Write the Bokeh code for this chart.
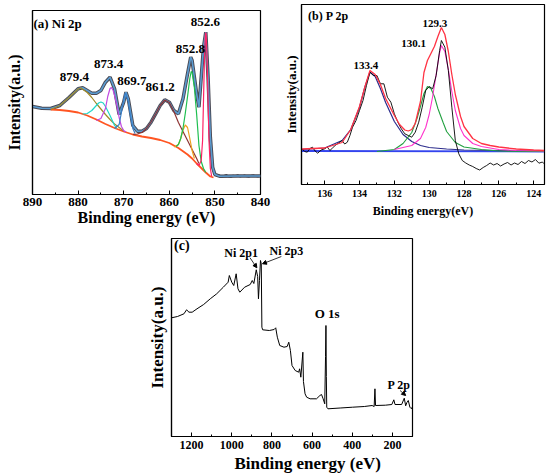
from bokeh.plotting import figure
from bokeh.layouts import row, column, Spacer
from bokeh.models import Range1d, FixedTicker, SingleIntervalTicker, Label, Arrow, NormalHead
from bokeh.embed import file_html
from bokeh.resources import INLINE

FONT = "Liberation Serif"

# ---------------- Panel (a) Ni 2p ----------------
a_env_e = [890, 888, 886, 884, 882, 880, 879, 878, 877, 876, 875, 874, 873, 872, 871, 870, 869.5, 869,
           868, 867, 866, 865, 864, 863, 862, 861, 860, 859, 858, 857, 856, 855.3, 855, 854, 853.5, 853,
           852.5, 852, 851.5, 851, 850.5, 850, 849, 845, 840]
a_env_v = [88, 86.3, 86, 89, 97, 105.7, 106.7, 104, 101.3, 101.3, 104, 112.3, 117.3, 105.7, 80, 92.3, 102.3, 95.7,
           69, 63.3, 63.3, 66, 72.3, 80.7, 89, 94.7, 92.3, 84, 80.7, 95.7, 120.7, 137.3, 134, 100.7, 87.3, 117.3,
           147.3, 162.3, 117.3, 57.3, 27.3, 20, 18.3, 18.5, 18.5]
a_tail_e = [850, 849.5, 849, 848.5, 848, 847.5, 847, 846.5, 846, 845.5, 845, 844.5, 844, 843.5, 843, 842.5,
            842, 841.5, 841, 840.5, 840]
a_tail_v = [20, 18.5, 19.5, 17.5, 18.8, 19.8, 18, 17.2, 19, 18.4, 19.6, 17.8, 18.6, 19.2, 18, 17.6, 18.9, 19.4,
            18.2, 17.9, 18.7]
a_bg_e = [886, 884, 882, 880, 878, 876, 874, 872, 870, 868, 866, 864, 862, 860, 858, 856, 855, 854, 853, 852, 851, 850.3]
a_bg_v = [85, 84.5, 83.5, 82, 79, 75, 70.5, 66.5, 63, 60, 58, 56.5, 54.5, 51.5, 46.5, 40, 36, 31, 26.5, 22, 18, 17]
a_olive_e = [886, 884, 882, 880, 879.4, 878, 877, 876, 875, 874, 873, 872, 871, 870]
a_olive_v = [85, 89, 97, 105.5, 106.5, 102, 97, 91, 85.5, 80, 75, 70.5, 67, 63.5]
a_cyan_e = [879, 878, 877, 876, 875.5, 875, 874.5, 874, 873, 872, 871.5]
a_cyan_v = [80.5, 81, 84, 89, 91.5, 92.5, 91.5, 88, 79, 69, 66]
a_mag_e = [876, 875, 874, 873.5, 873, 872.7, 872.3, 872, 871.5, 871, 870.5, 870, 869.5]
a_mag_v = [74, 76, 86, 98, 106, 107, 104, 99, 89, 77, 68, 64, 62.5]
a_blue_e = [872, 871, 870.5, 870, 869.7, 869.5, 869, 868.5, 868, 867.5]
a_blue_v = [66, 70, 82, 95, 101, 100.5, 93, 78, 66, 61]
a_brown_e = [868, 867, 866, 865, 864, 863, 862, 861, 860, 859, 858, 857, 856, 855, 854, 853.5]
a_brown_v = [60, 60.5, 62, 66, 72.5, 80.5, 89, 94.5, 92, 83, 72, 63, 54, 45, 36, 31]
a_orange_e = [859, 858, 857.5, 857, 856.5, 856, 855.5, 855, 854.5]
a_orange_v = [47.5, 50, 56, 64.5, 69.5, 67, 56, 44, 36]
a_green_e = [858.5, 858, 857.5, 857, 856.5, 856, 855.5, 855.2, 855, 854.5, 854, 853.5, 853, 852.5, 852]
a_green_v = [48, 50, 56, 66, 81, 98, 116, 123, 122, 107, 80, 49, 33, 26, 22]
a_red_e = [854, 853.5, 853, 852.7, 852.5, 852.3, 852.1, 852, 851.9, 851.7, 851.5, 851.3, 851, 850.7]
a_red_v = [31, 29, 34, 54, 94, 134, 159, 162, 159, 134, 94, 54, 26, 18]
a_peak_labels = ["852.6", "852.8", "879.4", "873.4", "869.7", "861.2"]

# ---------------- Panel (b) P 2p ----------------
b_raw_e = [137.3, 137.15, 137, 136.85, 136.7, 136.55, 136.4, 136.2, 136, 135.85, 135.7, 135.55, 135.4, 135.2,
           135, 134.85, 134.7, 134.55, 134.4, 134.2, 134, 133.8, 133.6, 133.4,
           133.2, 133, 132.8, 132.6, 132.4, 132.2, 132, 131.8, 131.6, 131.4, 131.2, 131, 130.8, 130.6, 130.4,
           130.2, 130, 129.8, 129.6, 129.4, 129.3, 129.1, 128.9, 128.7, 128.5, 128.3, 128.1, 127.9, 127.7, 127.5,
           127.3, 127.1, 126.9, 126.7, 126.5, 126.3, 126.1, 125.9, 125.7, 125.5, 125.3, 125.1, 124.9, 124.7,
           124.5, 124.3, 124.1, 123.9, 123.7, 123.5, 123.4]
b_raw_v = [35.7, 33, 32.3, 36, 37.3, 33.5, 31.3, 34.5, 35.7, 37.5, 34, 36.5, 39, 41.5,
           44, 40.5, 42.3, 49, 57.3, 64, 74, 84, 99, 112.3,
           109, 109, 100.7, 100.7, 87.3, 82.3, 70.7, 62.3, 55.7, 50.7, 49, 47.3, 52.3, 62.3, 77.3,
           94, 98, 95.7, 109, 134, 144, 137.3, 114, 77.3, 44, 30.7, 24, 21.5, 19.5, 18,
           16, 14.5, 17, 19, 21.5, 19.5, 21, 18.5, 20.5, 22, 19.5, 21.5, 20, 23, 21, 24, 22.5, 25, 21.3, 22.5, 20.7]
b_env_e = [137.3, 136, 135, 134.5, 134, 133.7, 133.4, 133.1, 132.8, 132.5, 132, 131.7, 131.4, 131.2, 131,
           130.8, 130.5, 130.3, 130.1, 129.9, 129.7, 129.5, 129.3, 129.1, 128.9, 128.7, 128.5, 128.2, 128,
           127.5, 127, 126.5, 126, 125, 124, 123.4]
b_env_v = [35.5, 36.5, 42, 55, 78, 97, 114, 110, 100, 86, 69, 60, 54.5, 53.5, 55,
           61, 83, 112, 124, 131, 138, 148, 157, 150, 133, 110, 90, 68, 58,
           46, 41, 39, 37.5, 35.5, 34.5, 34]
b_navy_e = [137.3, 136, 135, 134.5, 134, 133.7, 133.4, 133.1, 132.8, 132.5, 132, 131.5, 131, 130.5, 130, 129, 128, 126, 123.4]
b_navy_v = [35, 36.5, 44, 55, 77, 97, 112.5, 108, 96, 82, 63, 50, 43, 39, 37, 35.5, 34.5, 34, 33.5]
b_green_e = [133, 132, 131.5, 131, 130.7, 130.5, 130.3, 130.1, 129.9, 129.7, 129.5, 129.2, 129, 128.5, 128, 127, 126, 124, 123.4]
b_green_v = [33, 35, 41, 52, 66, 78, 91, 98, 96, 88, 76, 62, 53, 42, 37.5, 35, 33.5, 33, 33]
b_mag_e = [132, 131, 130.5, 130.2, 130, 129.8, 129.6, 129.4, 129.3, 129.1, 128.9, 128.7, 128.5, 128.2, 128,
           127.5, 127, 126, 125, 123.4]
b_mag_v = [35, 39, 46, 57, 70, 88, 110, 132, 139, 133, 115, 93, 74, 56, 49, 41, 38, 35, 34, 33.5]
b_base_e = [137.3, 123.4]
b_base_v = [33.5, 33]
b_peak_labels = ["133.4", "130.1", "129.3"]

# ---------------- Panel (c) survey ----------------
c_e = [1300, 1270, 1238, 1225, 1213, 1197, 1173, 1140, 1107, 1075, 1042, 1018, 1012, 1000, 990, 978, 969, 960,
       936, 908, 898, 890, 878, 871, 867, 862, 857, 853, 850, 846, 813, 789, 781, 773, 761, 740, 724, 716, 708,
       700, 684, 667, 662, 656, 646, 643, 635, 627, 610, 578, 561, 553, 545, 537, 533, 531, 529, 527, 521, 460,
       398, 340, 301, 291, 287, 284, 235, 203, 193, 187, 154, 141, 134, 128, 121, 113, 105, 100]
c_v = [118.7, 120, 122.7, 126.7, 124.3, 124.3, 127.7, 132, 137.7, 142.7, 149.3, 154.3, 161, 154.3, 151, 162.7, 147.7, 144.3,
       149.3, 152, 156, 153, 166.7, 160, 137.7, 156, 176, 172.7, 109.3, 106.7, 106, 107, 108.7, 99.3, 91, 89.3, 90, 94.3, 86,
       71, 66, 64.3, 67.7, 59.3, 84.3, 55, 42.7, 39.3, 37.7, 37.7, 41, 42, 37.7, 32.7, 80, 111, 60, 29.3, 27.7, 28.5,
       29.3, 30, 31, 30, 47.7, 31, 31.3, 32, 36.7, 32, 32, 38.3, 30.7, 34, 36, 29.3, 27.7, 30]


def styled(width, height, xr, yr, borders, tick_interval, tick_size, tick_standoff,
           xlabel, xlabel_size, xlabel_standoff, ylabel, ylabel_size, ylabel_standoff):
    p = figure(width=width, height=height, x_range=Range1d(*xr), y_range=Range1d(*yr),
               output_backend="svg", toolbar_location=None,
               min_border_left=borders[0], min_border_right=borders[1],
               min_border_top=borders[2], min_border_bottom=borders[3])
    p.xgrid.visible = False
    p.ygrid.visible = False
    p.background_fill_color = "white"
    p.border_fill_color = "white"
    p.outline_line_color = "black"
    p.outline_line_alpha = 1.0
    p.outline_line_width = 1.2
    ax = p.xaxis[0]
    ax.ticker = SingleIntervalTicker(interval=tick_interval, num_minor_ticks=2)
    ax.major_tick_in = 4
    ax.major_tick_out = 0
    ax.minor_tick_in = 2
    ax.minor_tick_out = 0
    ax.axis_line_width = 1.2
    ax.major_label_text_font = FONT
    ax.major_label_text_font_style = "bold"
    ax.major_label_text_font_size = tick_size
    ax.major_label_text_color = "black"
    ax.major_label_standoff = tick_standoff
    if xlabel:
        ax.axis_label = xlabel
        ax.axis_label_text_font = FONT
        ax.axis_label_text_font_style = "bold"
        ax.axis_label_text_font_size = xlabel_size
        ax.axis_label_text_color = "black"
        ax.axis_label_standoff = xlabel_standoff
    ay = p.yaxis[0]
    ay.ticker = FixedTicker(ticks=[])
    ay.major_tick_in = 0
    ay.major_tick_out = 0
    ay.minor_tick_line_color = None
    ay.axis_line_width = 1.2
    ay.axis_label = ylabel
    ay.axis_label_text_font = FONT
    ay.axis_label_text_font_style = "bold"
    ay.axis_label_text_font_size = ylabel_size
    ay.axis_label_text_color = "black"
    ay.axis_label_standoff = ylabel_standoff
    return p


def lab(p, x, y, text, size, align="center"):
    p.add_layout(Label(x=x, y=y, text=text, text_font=FONT, text_font_style="bold",
                       text_font_size=size, text_align=align, text_baseline="middle",
                       text_color="black"))


# ---- figure a ----
fa = styled(280, 232, (890, 840), (0, 184), (32, 20, 10, 38), 10, "13px", 3,
            "Binding energy (eV)", "16px", 0, "Intensity(a.u.)", "16px", 10)
fa.line(a_env_e, a_env_v, color="#4a4a55", line_width=3.5)
fa.line(a_tail_e, a_tail_v, color="#4a4a55", line_width=1.6)
fa.line(a_env_e, a_env_v, color="#5b9bd0", line_width=1.6)
fa.line(a_bg_e, a_bg_v, color="#ff5522", line_width=1.8)
fa.line(a_olive_e, a_olive_v, color="#a08a2a", line_width=1.2)
fa.line(a_cyan_e, a_cyan_v, color="#22d6c8", line_width=1.2)
fa.line(a_mag_e, a_mag_v, color="#c04ae0", line_width=1.2)
fa.line(a_blue_e, a_blue_v, color="#3a7fc8", line_width=1.2)
fa.line(a_brown_e, a_brown_v, color="#8e3434", line_width=1.2)
fa.line(a_orange_e, a_orange_v, color="#eea020", line_width=1.2)
fa.line(a_green_e, a_green_v, color="#1fbf50", line_width=1.2)
fa.line(a_red_e, a_red_v, color="#ff2266", line_width=1.2)
lab(fa, 889.8, 171, "(a) Ni 2p", "13px", "left")
for (x, y), t in zip([(852.1, 172.3), (855.4, 145.7), (880.8, 118), (873.3, 130.7), (868.2, 114), (862.0, 108)],
                     a_peak_labels):
    lab(fa, x, y, t, "13px")

# ---- figure b ----
fb = styled(270, 232, (137.33, 123.38), (0, 180), (18, 6, 4, 48), 2, "10px", 5,
            "Binding energy(eV)", "12px", 4, "Intensity(a.u.)", "13px", 3)
fb.line(b_base_e, b_base_v, color="#3344ee", line_width=1.8)
fb.line(b_navy_e, b_navy_v, color="#2c2c8c", line_width=1.2)
fb.line(b_green_e, b_green_v, color="#22a040", line_width=1.1)
fb.line(b_mag_e, b_mag_v, color="#ff33cc", line_width=1.1)
fb.line(b_raw_e, b_raw_v, color="black", line_width=0.9)
fb.line(b_env_e, b_env_v, color="#ff3344", line_width=1.3)
lab(fb, 136.95, 169, "(b) P 2p", "12px", "left")
for (x, y), t in zip([(133.64, 119), (130.9, 141.3), (129.67, 161.3)], b_peak_labels):
    lab(fb, x, y, t, "11px")

# ---- figure c ----
fc = styled(274, 244, (1300, 100), (0, 198), (24, 6, 6, 40), 200, "12px", 4,
            None, "17px", 0, "Intensity(a.u.)", "17px", 5)
fc.title_location = "below"
fc.title.text = "Binding energy (eV)"
fc.title.align = "left"
fc.title.offset = 63
fc.title.standoff = 0
fc.title.text_font = FONT
fc.title.text_font_style = "bold"
fc.title.text_font_size = "17px"
fc.title.text_color = "black"
fc.line(c_e, c_v, color="black", line_width=1.0)
lab(fc, 1287, 191, "(c)", "14px", "left")
lab(fc, 953, 183.3, "Ni 2p1", "12px")
lab(fc, 728, 186, "Ni 2p3", "12px")
lab(fc, 525, 122.7, "O 1s", "13px")
lab(fc, 167, 52, "P 2p", "12px")
for xs, ys, xe, ye in [(909, 178.7, 875, 168.7), (753, 180, 847, 172.7), (162, 46, 134, 41)]:
    fc.add_layout(Arrow(end=NormalHead(size=4, fill_color="black", line_color="black"),
                        x_start=xs, y_start=ys, x_end=xe, y_end=ye, line_width=0.8, line_color="black"))

top = row(column(Spacer(width=280, height=0), fa), column(Spacer(width=270, height=0), fb))
layout = column(top, row(Spacer(width=144, height=244), fc))
open("out.html", "w").write(file_html(layout, INLINE))
